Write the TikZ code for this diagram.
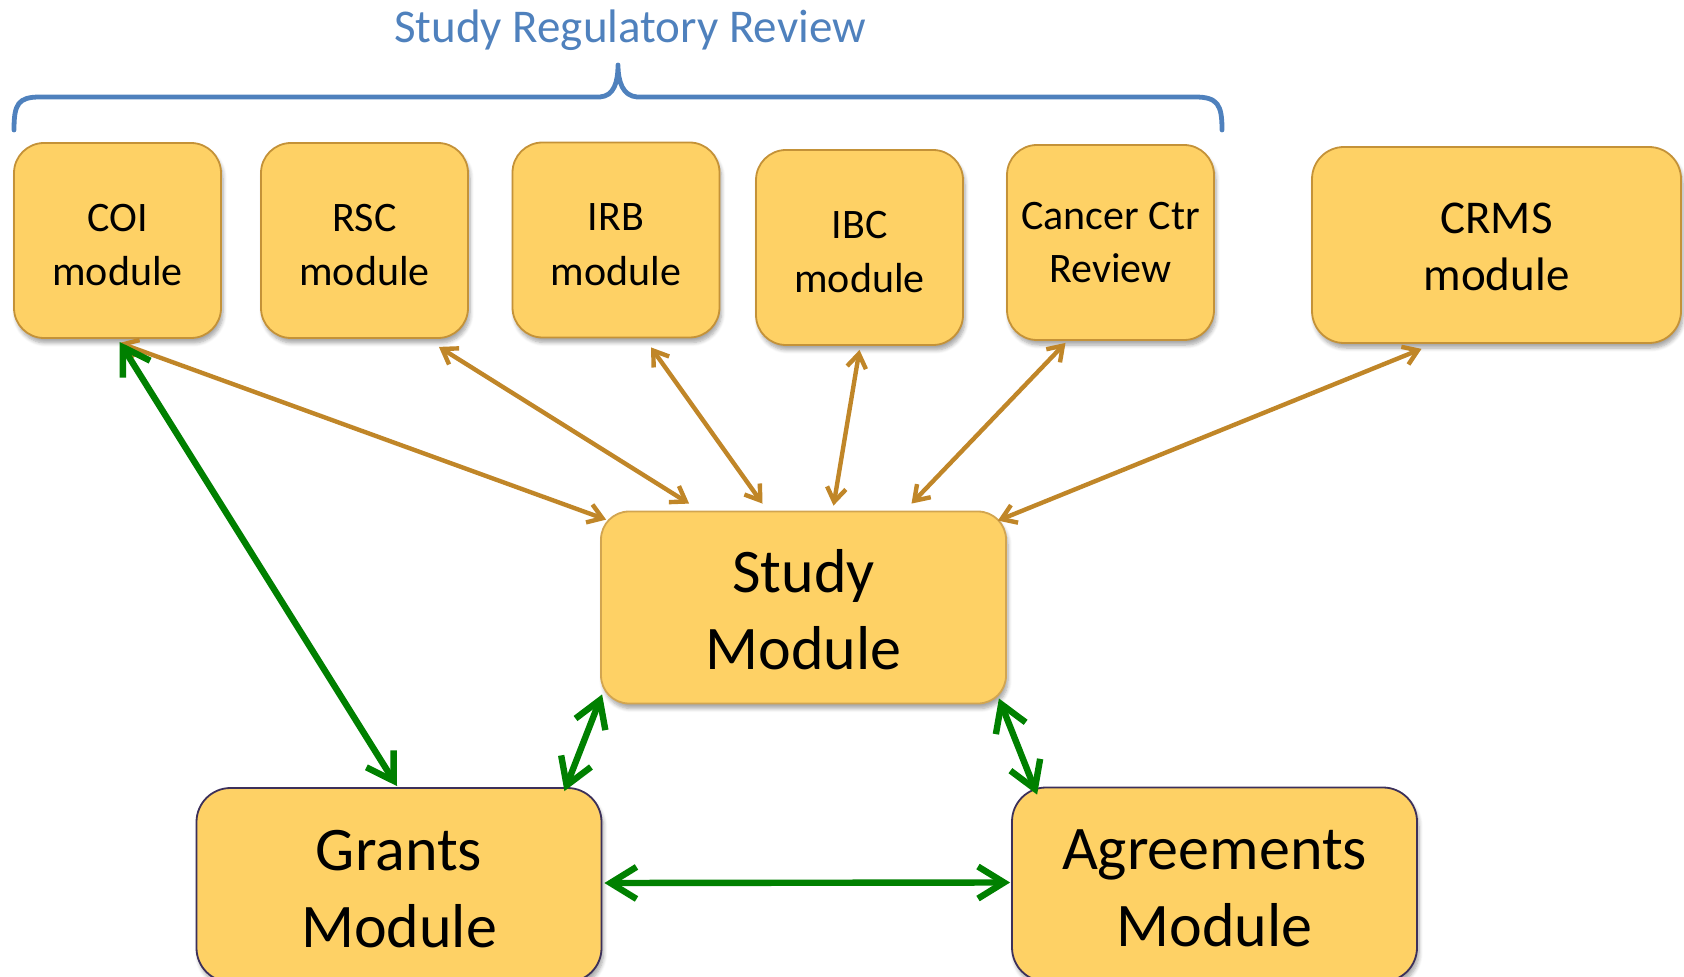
\documentclass[tikz,border=0pt]{standalone}
\usepackage{fontspec}
\setmainfont{Carlito}
\usetikzlibrary{arrows.meta,shadows.blur}
\definecolor{boxfill}{RGB}{254,209,101}
\definecolor{boxedge}{RGB}{196,146,56}
\definecolor{studyedge}{RGB}{210,165,80}
\definecolor{darkedge}{RGB}{60,48,90}
\definecolor{arrowor}{RGB}{192,134,40}
\definecolor{arrowgr}{RGB}{0,128,0}
\definecolor{bracecol}{RGB}{79,129,189}
\newcommand{\mystrut}[1]{\rule{0pt}{#1}}
\begin{document}
\begin{tikzpicture}[x=0.5pt,y=-0.5pt,
  modbox/.style={draw=boxedge, fill=boxfill, line width=0.9pt, align=center, inner sep=0pt,
    blur shadow={shadow xshift=1pt, shadow yshift=-2.5pt, shadow blur steps=6, shadow opacity=35}},
  smallbox/.style={modbox, rounded corners=15pt, minimum width=103.5pt, minimum height=97.5pt,
    font=\fontsize{21}{27.3}\selectfont},
  crmsbox/.style={modbox, rounded corners=16pt, minimum width=184.5pt, minimum height=98pt,
    font=\fontsize{23.5}{28.8}\selectfont},
  bigbox/.style={modbox, rounded corners=14pt, minimum width=202.5pt, minimum height=96pt,
    font=\fontsize{31}{38.5}\selectfont},
  oarrow/.style={draw=arrowor, line width=2.2pt, >={Straight Barb[length=7pt,width=9.5pt]}, <->},
  garrow/.style={draw=arrowgr, line width=3.2pt, >={Straight Barb[length=13pt,width=16pt]}, <->},
  bracestyle/.style={draw=bracecol, line width=2.4pt, line cap=round, line join=round}
]
\useasboundingbox (0,0) rectangle (1684,977);

% title and brace
\node[anchor=base, text=bracecol, font=\fontsize{23.5}{28}\selectfont, inner sep=0pt] (title) at (630,43) {Study Regulatory Review};
\draw[bracestyle] (14,130) .. controls (14,104) and (18,97) .. (40,97) -- (600,97)
  .. controls (614,96) and (618,82) .. (618,65)
  .. controls (618,82) and (623,96) .. (637,97) -- (1195,97)
  .. controls (1218,97) and (1222,105) .. (1222,130);

% top modules
\node[smallbox] (coi) at (117.5,240.5) {\mystrut{18pt}COI\\module};
\node[smallbox] (rsc) at (364.5,240.5) {\mystrut{18pt}RSC\\module};
\node[smallbox] (irb) at (616,240) {\mystrut{18pt}IRB\\module};
\node[smallbox] (ibc) at (859.5,247.5) {\mystrut{18pt}IBC\\module};
\node[smallbox, font=\fontsize{21}{26.5}\selectfont] (cancer) at (1110.5,242.5) {Cancer Ctr\\Review};
\node[crmsbox] (crms) at (1496.5,245) {\mystrut{17pt}CRMS\\module};

% central and bottom modules
\node[bigbox, draw=studyedge] (study) at (803.5,607.5) {\mystrut{24pt}Study\\Module};
\node[bigbox, draw=darkedge, rounded corners=17pt, minimum height=97pt] (grants) at (399,885) {\mystrut{24pt}Grants\\Module};
\node[bigbox, draw=darkedge, rounded corners=17pt, minimum height=97pt] (agree) at (1214.5,884.5) {\mystrut{24pt}Agreements\\Module};

% orange connectors
\draw[oarrow] ([shift={(2,4)}]coi.south) -- ([shift={(6,9)}]study.north west);
\draw[oarrow] ([shift={(-30,8)}]rsc.south east) -- ([shift={(89,-7)}]study.north west);
\draw[oarrow] ([shift={(35,9)}]irb.south) -- ([shift={(-41,-7)}]study.north);
\draw[oarrow] ([shift={(0,4)}]ibc.south) -- ([shift={(30,-5)}]study.north);
\draw[oarrow] ([shift={(-45,2)}]cancer.south) -- ([shift={(108,-7)}]study.north);
\draw[oarrow] ([shift={(-75,5)}]crms.south) -- ([shift={(-9,10)}]study.north east);

% green connectors
\draw[garrow] ([shift={(2,3)}]coi.south) -- ([shift={(-2,-1)}]grants.north);
\draw[garrow] ([shift={(2,-10)}]study.south west) -- ([shift={(-38,4)}]grants.north east);
\draw[garrow] ([shift={(-8,-6)}]study.south east) -- ([shift={(26,8)}]agree.north west);
\draw[garrow] ([shift={(2,-2)}]grants.east) -- ([shift={(-1,-2)}]agree.west);
\end{tikzpicture}
\end{document}
